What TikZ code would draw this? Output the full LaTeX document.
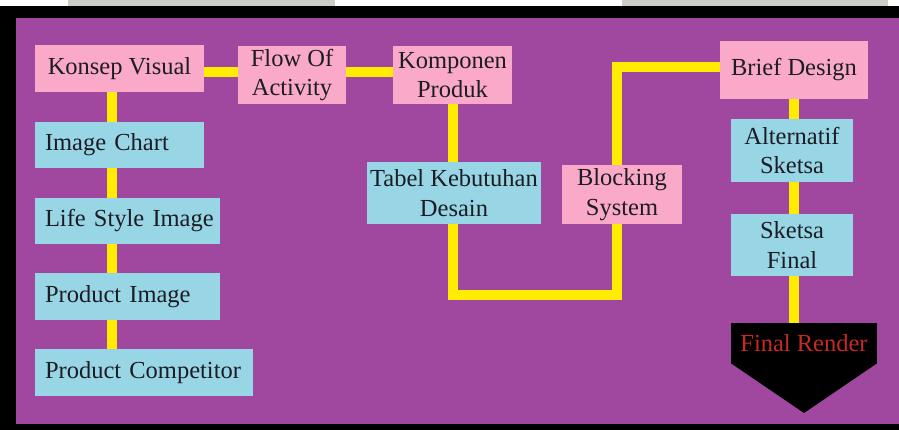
\documentclass[tikz,border=0pt]{standalone}
\usepackage{fontspec}
\setmainfont{Liberation Serif}
\usetikzlibrary{backgrounds}
\definecolor{bgpurple}{RGB}{160,72,160}
\definecolor{boxpink}{RGB}{250,170,200}
\definecolor{boxblue}{RGB}{152,214,230}
\definecolor{lineyellow}{RGB}{255,236,0}
\definecolor{stripgray}{RGB}{205,205,200}
\definecolor{txt}{RGB}{28,28,36}
\definecolor{redtxt}{RGB}{200,40,40}
\begin{document}
\begin{tikzpicture}[x=1pt,y=-1pt,
  every node/.style={font=\fontsize{24.5}{29.5}\selectfont, text=txt, inner sep=0pt, align=center},
  pinkbox/.style={fill=boxpink},
  bluebox/.style={fill=boxblue},
  leftbox/.style={fill=boxblue, align=left, inner xsep=10pt},
  conn/.style={draw=lineyellow, line width=10pt}]
\useasboundingbox (0,0) rectangle (899,430);
\begin{pgfonlayer}{background}
  \fill[white] (0,0) rectangle (899,430);
  \fill[stripgray] (68,0) rectangle (335,6);
  \fill[stripgray] (622,0) rectangle (888,6);
  \fill[black] (0,6) rectangle (899,430);
  \fill[bgpurple] (16,18) rectangle (899,424);
\end{pgfonlayer}

% left column
\node[pinkbox, minimum width=169pt, minimum height=47pt] (kv) at (119.5,68.5) {Konsep Visual};
\node[leftbox, text width=149pt, minimum height=46pt] (ic) at (119.5,145) {\mbox{Image Chart}};
\node[leftbox, text width=165pt, minimum height=46pt] (ls) at (127.5,221) {\mbox{Life Style Image}};
\node[leftbox, text width=165pt, minimum height=47pt] (pi) at (127.5,296.5) {\mbox{Product Image}};
\node[leftbox, text width=198pt, minimum height=47pt] (pc) at (144,372.5) {\mbox{Product Competitor}};

% top row
\node[pinkbox, minimum width=108pt, minimum height=58pt] (fa) at (292,75) {Flow Of\\Activity};
\node[pinkbox, minimum width=119pt, minimum height=58pt] (kp) at (452.5,75) {Komponen\\Produk};

% middle
\node[bluebox, minimum width=174pt, minimum height=62pt] (tk) at (454,193) {Tabel Kebutuhan\\Desain};
\node[pinkbox, minimum width=120pt, minimum height=59pt] (bs) at (622,194.5) {Blocking\\System};

% right column
\node[pinkbox, minimum width=148pt, minimum height=58pt] (bd) at (794,70) {Brief Design};
\node[bluebox, minimum width=122pt, minimum height=63pt] (as) at (792,150.5) {Alternatif\\Sketsa};
\node[bluebox, minimum width=122pt, minimum height=62pt] (sf) at (792,245) {Sketsa\\Final};
\node[fill=black, minimum width=146pt, minimum height=40pt, text=redtxt] (fr) at (804,343) {Final Render};
\fill[black] (fr.south west) -- (fr.south east) -- (fr.south |- 0,413) -- cycle;

\begin{pgfonlayer}{background}
  \coordinate (hy) at (0,72);
  \draw[conn] (kv.east |- hy) -- (kp.west |- hy);
  \coordinate (lx) at (112,0);
  \draw[conn] (lx |- kv.south) -- (lx |- pc.north);
  \coordinate (ub) at (0,295);
  \coordinate (ur) at (617,67);
  \draw[conn] (kp.south) -- (kp.south |- ub) -- (ur |- ub) -- (ur) -- (bd.west |- ur);
  \coordinate (rx) at (794,0);
  \draw[conn] (rx |- bd.south) -- (rx |- fr.north);
\end{pgfonlayer}
\end{tikzpicture}
\end{document}
